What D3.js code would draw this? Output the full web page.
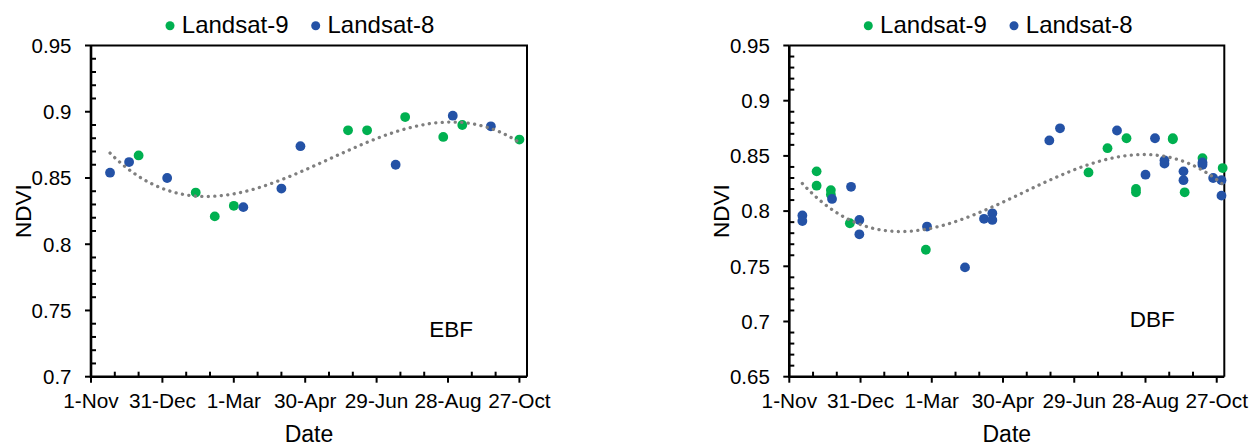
<!DOCTYPE html>
<html>
<head>
<meta charset="utf-8">
<script src="https://cdn.jsdelivr.net/npm/d3@7"></script>
<style>
    body { margin: 0; background: #fff; }
    svg text { font-family: "Liberation Sans", Arial, sans-serif; fill: #000; }
</style>
</head>
<body>
<div id="chart"></div>
<script>
const parseTime = d3.timeParse("%Y-%m-%d");

// x axis tick labels, one every 60 days from 1-Nov
const tickLabels = ["1-Nov", "31-Dec", "1-Mar", "30-Apr", "29-Jun", "28-Aug", "27-Oct"];
const seriesNames = ["Landsat-9", "Landsat-8"];
const seriesColors = ["#00b050", "#2452a6"];

// EBF panel
const ebfL9Dates = ["2021-12-11", "2022-01-28", "2022-02-13", "2022-03-01", "2022-06-05",
    "2022-06-21", "2022-07-23", "2022-08-24", "2022-09-09", "2022-10-27"];
const ebfL9Ndvi = [0.867, 0.839, 0.821, 0.829, 0.886, 0.886, 0.896, 0.881, 0.890, 0.879];
const ebfL8Dates = ["2021-11-17", "2021-12-03", "2022-01-04", "2022-03-09", "2022-04-10",
    "2022-04-26", "2022-07-15", "2022-09-01", "2022-10-03"];
const ebfL8Ndvi = [0.854, 0.862, 0.850, 0.828, 0.842, 0.874, 0.860, 0.897, 0.889];

// DBF panel
const dbfL9Dates = ["2021-11-24", "2021-11-24", "2021-12-06", "2021-12-06", "2021-12-22",
    "2022-02-24", "2022-07-11", "2022-07-27", "2022-08-12", "2022-08-20", "2022-08-20",
    "2022-09-20", "2022-09-20", "2022-09-30", "2022-10-15", "2022-11-01"];
const dbfL9Ndvi = [0.836, 0.823, 0.819, 0.815, 0.789, 0.765, 0.835, 0.857, 0.866, 0.820, 0.817,
    0.866, 0.865, 0.817, 0.848, 0.839];
const dbfL8Dates = ["2021-11-12", "2021-11-12", "2021-12-07", "2021-12-23", "2021-12-30",
    "2021-12-30", "2022-02-25", "2022-03-29", "2022-04-14", "2022-04-21", "2022-04-21",
    "2022-06-08", "2022-06-17", "2022-08-04", "2022-08-28", "2022-09-05", "2022-09-13",
    "2022-09-13", "2022-09-29", "2022-09-29", "2022-10-15", "2022-10-15", "2022-10-24",
    "2022-10-31", "2022-10-31"];
const dbfL8Ndvi = [0.796, 0.791, 0.811, 0.822, 0.792, 0.779, 0.786, 0.749, 0.793, 0.798, 0.792,
    0.864, 0.875, 0.873, 0.833, 0.866, 0.846, 0.843, 0.836, 0.828, 0.844, 0.842, 0.830,
    0.828, 0.814];

const toPoints = (dates, values) => dates.map((d, i) => ({date: parseTime(d), ndvi: values[i]}));

// least squares cubic, like the Excel polynomial trendline
function cubicFit(points, t0) {
    const n = 4;
    const A = d3.range(n).map(() => new Array(n + 1).fill(0));
    points.forEach(p => {
        const x = (p.date - t0) / 864e5 / 100;
        for (let r = 0; r < n; r++) {
            for (let c = 0; c < n; c++) A[r][c] += Math.pow(x, r + c);
            A[r][n] += p.ndvi * Math.pow(x, r);
        }
    });
    for (let i = 0; i < n; i++) {
        let m = i;
        for (let r = i + 1; r < n; r++) if (Math.abs(A[r][i]) > Math.abs(A[m][i])) m = r;
        [A[i], A[m]] = [A[m], A[i]];
        for (let r = 0; r < n; r++) {
            if (r === i) continue;
            const f = A[r][i] / A[i][i];
            for (let c = i; c <= n; c++) A[r][c] -= f * A[i][c];
        }
    }
    const coef = A.map((row, i) => row[n] / row[i]);
    return date => {
        const x = (date - t0) / 864e5 / 100;
        return coef[0] + coef[1] * x + coef[2] * x * x + coef[3] * x * x * x;
    };
}

class NdviScatter {
    constructor(_svg, _series, _config) {
        this.svg = _svg;
        this.series = _series;
        this.config = _config;
        this.#init();
    }

    #init() {
        const vis = this;
        vis.#preparePlot();
        vis.#prepareScales();
        vis.#drawAxes();
        vis.#drawPoints();
        vis.#drawTrend();
        vis.#addLegend();
        vis.#addLabels();
    }

    #preparePlot() {
        const vis = this;
        vis.LEFT = vis.config.left;
        vis.TOP = 45.5;
        vis.WIDTH = vis.config.width;
        vis.HEIGHT = 331.2;
        vis.g = vis.svg.append("g")
            .attr("transform", `translate(${vis.LEFT}, ${vis.TOP})`);
    }

    #prepareScales() {
        const vis = this;
        vis.start = new Date(2021, 10, 1);
        vis.x = d3.scaleTime()
            .domain([vis.start, d3.timeHour.offset(vis.start, 366.4 * 24)])
            .range([0, vis.WIDTH]);
        vis.y = d3.scaleLinear()
            .domain(vis.config.yDomain)
            .range([vis.HEIGHT, 0]);
    }

    #drawAxes() {
        const vis = this;
        const majorX = tickLabels.map((l, i) => d3.timeDay.offset(vis.start, 60 * i));
        const minorX = d3.range(1, 19).filter(i => i % 3 !== 0).map(i => d3.timeDay.offset(vis.start, 20 * i));
        const [y0, y1] = vis.config.yDomain;
        const majorY = d3.range(Math.round((y1 - y0) / 0.05) + 1).map(i => y0 + i * 0.05);
        const minorY = d3.range(Math.round((y1 - y0) / 0.01) + 1).filter(i => i % 5 !== 0).map(i => y0 + i * 0.01);

        // frame top and right
        vis.g.append("path")
            .attr("d", `M0,0H${vis.WIDTH}V${vis.HEIGHT}`)
            .attr("fill", "none")
            .attr("stroke", "#000")
            .attr("stroke-width", 2);

        // minor ticks point inwards, major ticks outwards
        vis.g.append("g").selectAll("line")
            .data(minorX).enter().append("line")
            .attr("x1", d => vis.x(d)).attr("x2", d => vis.x(d))
            .attr("y1", vis.HEIGHT).attr("y2", vis.HEIGHT - 5)
            .attr("stroke", "#000").attr("stroke-width", 2);
        vis.g.append("g").selectAll("line")
            .data(majorX).enter().append("line")
            .attr("x1", d => vis.x(d)).attr("x2", d => vis.x(d))
            .attr("y1", vis.HEIGHT).attr("y2", vis.HEIGHT + 6)
            .attr("stroke", "#000").attr("stroke-width", 2);
        vis.g.append("g").selectAll("line")
            .data(minorY).enter().append("line")
            .attr("x1", 0).attr("x2", 5)
            .attr("y1", d => vis.y(d)).attr("y2", d => vis.y(d))
            .attr("stroke", "#000").attr("stroke-width", 2);
        vis.g.append("g").selectAll("line")
            .data(majorY).enter().append("line")
            .attr("x1", -6).attr("x2", 0)
            .attr("y1", d => vis.y(d)).attr("y2", d => vis.y(d))
            .attr("stroke", "#000").attr("stroke-width", 2);

        // axis lines
        vis.g.append("path")
            .attr("d", `M0,0V${vis.HEIGHT}H${vis.WIDTH}`)
            .attr("fill", "none")
            .attr("stroke", "#000")
            .attr("stroke-width", 2.6);

        vis.g.append("g").selectAll("text")
            .data(majorX).enter().append("text")
            .attr("x", d => vis.x(d))
            .attr("y", vis.HEIGHT + 31.5)
            .attr("text-anchor", "middle")
            .style("font-size", "20.8px")
            .text((d, i) => tickLabels[i]);
        vis.g.append("g").selectAll("text")
            .data(majorY).enter().append("text")
            .attr("x", -19.5)
            .attr("y", d => vis.y(d) + 7.3)
            .attr("text-anchor", "end")
            .style("font-size", "20.5px")
            .text(d => String(+d.toFixed(2)));
    }

    #drawPoints() {
        const vis = this;
        vis.series.forEach((s, i) => {
            vis.g.append("g").selectAll("circle")
                .data(s).enter().append("circle")
                .attr("cx", d => vis.x(d.date))
                .attr("cy", d => vis.y(d.ndvi))
                .attr("r", 4.9)
                .attr("fill", seriesColors[i]);
        });
    }

    #drawTrend() {
        const vis = this;
        const all = vis.series.flat();
        const f = cubicFit(all, vis.start);
        const ext = d3.extent(all, d => d.date);
        const steps = d3.range(0, 101).map(i => new Date(+ext[0] + (ext[1] - ext[0]) * i / 100));
        vis.g.append("path")
            .datum(steps)
            .attr("d", d3.line().x(d => vis.x(d)).y(d => vis.y(f(d))))
            .attr("fill", "none")
            .attr("stroke", "#7f7f7f")
            .attr("stroke-width", 3.3)
            .attr("stroke-linecap", "round")
            .attr("stroke-dasharray", "0.1 6.4");
    }

    #addLegend() {
        const vis = this;
        const legend = vis.g.append("g")
            .attr("transform", "translate(0, -12.2)");
        const item = legend.selectAll(".legendCol")
            .data(seriesNames).enter().append("g")
            .attr("class", "legendCol")
            .attr("transform", (d, i) => `translate(${79 + i * 145.7}, 0)`);
        item.append("circle")
            .attr("cy", -7.6)
            .attr("r", 4.5)
            .attr("fill", (d, i) => seriesColors[i]);
        item.append("text")
            .attr("x", 11.8)
            .style("font-size", "24px")
            .text(d => d);
    }

    #addLabels() {
        const vis = this;
        vis.g.append("text")
            .attr("x", vis.WIDTH / 2)
            .attr("y", vis.HEIGHT + 65)
            .attr("text-anchor", "middle")
            .style("font-size", "23px")
            .text("Date");
        vis.g.append("text")
            .attr("transform", `translate(-60, ${vis.HEIGHT / 2}) rotate(-90)`)
            .attr("text-anchor", "middle")
            .style("font-size", "22.5px")
            .text("NDVI");
        vis.g.append("text")
            .attr("x", vis.config.tagX)
            .attr("y", vis.config.tagY)
            .attr("text-anchor", "end")
            .style("font-size", "22.5px")
            .text(vis.config.tag);
    }
}

const svg = d3.select("#chart").append("svg")
    .attr("width", 1250)
    .attr("height", 446);

new NdviScatter(svg,
    [toPoints(ebfL9Dates, ebfL9Ndvi), toPoints(ebfL8Dates, ebfL8Ndvi)],
    {left: 91, width: 436, yDomain: [0.7, 0.95], tag: "EBF", tagX: 382, tagY: 291.8});

new NdviScatter(svg,
    [toPoints(dbfL9Dates, dbfL9Ndvi), toPoints(dbfL8Dates, dbfL8Ndvi)],
    {left: 789.3, width: 435, yDomain: [0.65, 0.95], tag: "DBF", tagX: 385.5, tagY: 281.8});
</script>
</body>
</html>
